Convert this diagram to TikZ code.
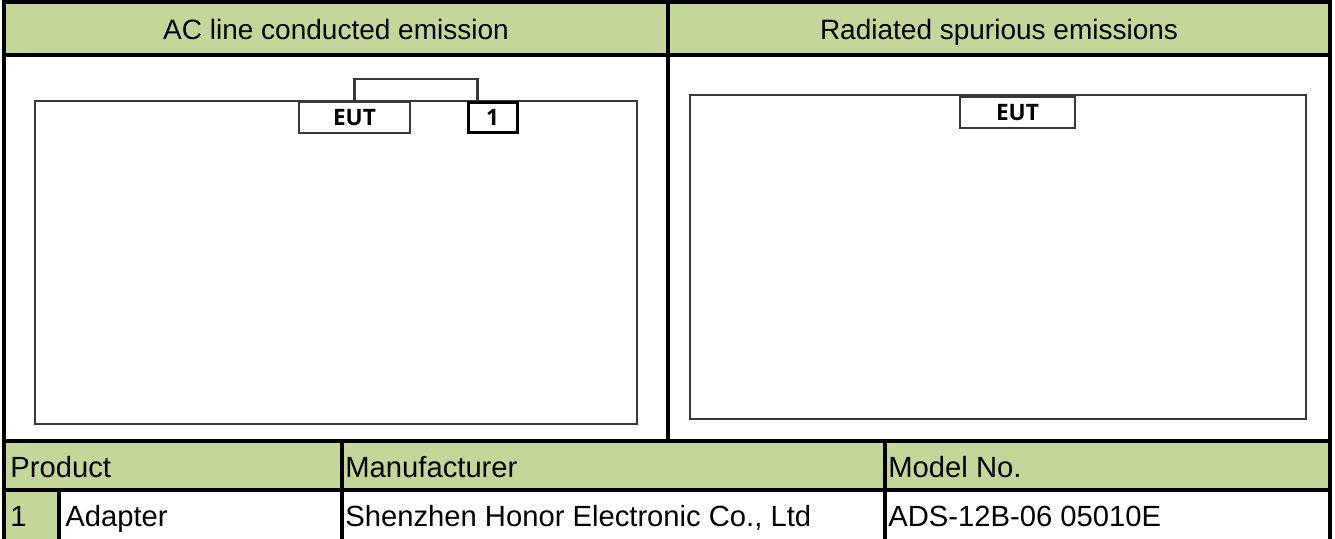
\documentclass[tikz,border=0pt]{standalone}
\usepackage{fontspec}
\setmainfont{Liberation Sans}
\newfontfamily\unitfont{Open Sans}
\usetikzlibrary{calc}
\definecolor{headgreen}{HTML}{C4D79B}

\def\colA{4}
\def\colB{59}
\def\colC{342}
\def\colD{668}
\def\colE{885}
\def\colF{1330}
\def\rowTop{2}
\def\rowHead{55}
\def\rowList{441}
\def\rowItem{490}
\def\rowEnd{539}

\tikzset{
  frame/.style={line width=2.2pt},
  grid/.style={line width=1.6pt},
  setup/.style={draw=black!78, line width=1.1pt},
  unit/.style={setup, fill=white, inner sep=0pt, font=\unitfont\bfseries\fontsize{11.3}{12}\selectfont},
  head/.style={anchor=base, inner sep=0pt, font=\fontsize{14}{16}\selectfont},
  cell/.style={anchor=base west, inner sep=0pt, font=\fontsize{14.6}{16}\selectfont}
}

\begin{document}
\begin{tikzpicture}[x=0.5pt,y=-0.5pt]
\useasboundingbox (0,0) rectangle (1335,539);
% green cells
\fill [headgreen] (\colA,\rowTop) rectangle (\colF,\rowHead);
\fill [headgreen] (\colA,\rowList) rectangle (\colF,\rowItem);
\fill [headgreen] (\colA,\rowItem) rectangle (\colB,\rowEnd);
% test setups
\draw [setup] (35,101) rectangle (637,424);
\draw [setup] (690,95) rectangle (1306,419);
\node [unit, minimum width=55.5pt, minimum height=15.5pt, anchor=north] (eutA) at (354.5,101) {EUT};
\node [unit, draw=black, line width=1.5pt, minimum width=24.5pt, minimum height=15pt, anchor=north] (adapter) at (492.5,101) {1};
\draw [setup] (eutA.north) -- ++(0,-22) -| ([xshift=5.5pt]adapter.north west);
\node [unit, minimum width=57.5pt, minimum height=15.5pt, anchor=north] (eutB) at (1017.5,96) {EUT};
% table lines
\draw [grid] (\colA,\rowHead) -- (\colF,\rowHead);
\draw [grid] (\colD,\rowTop) -- (\colD,\rowList);
\draw [grid] (\colA,\rowList) -- (\colF,\rowList);
\draw [grid] (\colA,\rowItem) -- (\colF,\rowItem);
\draw [grid] (\colB,\rowItem) -- (\colB,\rowEnd);
\draw [grid] (\colC,\rowList) -- (\colC,\rowEnd);
\draw [grid] (\colE,\rowList) -- (\colE,\rowEnd);
\draw [frame] (\colA,\rowEnd) -- (\colA,\rowTop) -- (\colF,\rowTop) -- (\colF,\rowEnd);
% texts
\node [head] (hdAC) at (336,40) {AC line conducted emission};
\node [head] (hdRad) at (999,40) {Radiated spurious emissions};
\node [cell] (hdProd) at (10,478) {Product};
\node [cell] (hdManu) at (345,478) {Manufacturer};
\node [cell] (hdModel) at (888,478) {Model No.};
\node [cell] (itNum) at (10,527) {1};
\node [cell] (itProd) at (65,527) {Adapter};
\node [cell] (itManu) at (345,527) {Shenzhen Honor Electronic Co., Ltd};
\node [cell] (itModel) at (888,527) {ADS-12B-06 05010E};
\end{tikzpicture}
\end{document}
